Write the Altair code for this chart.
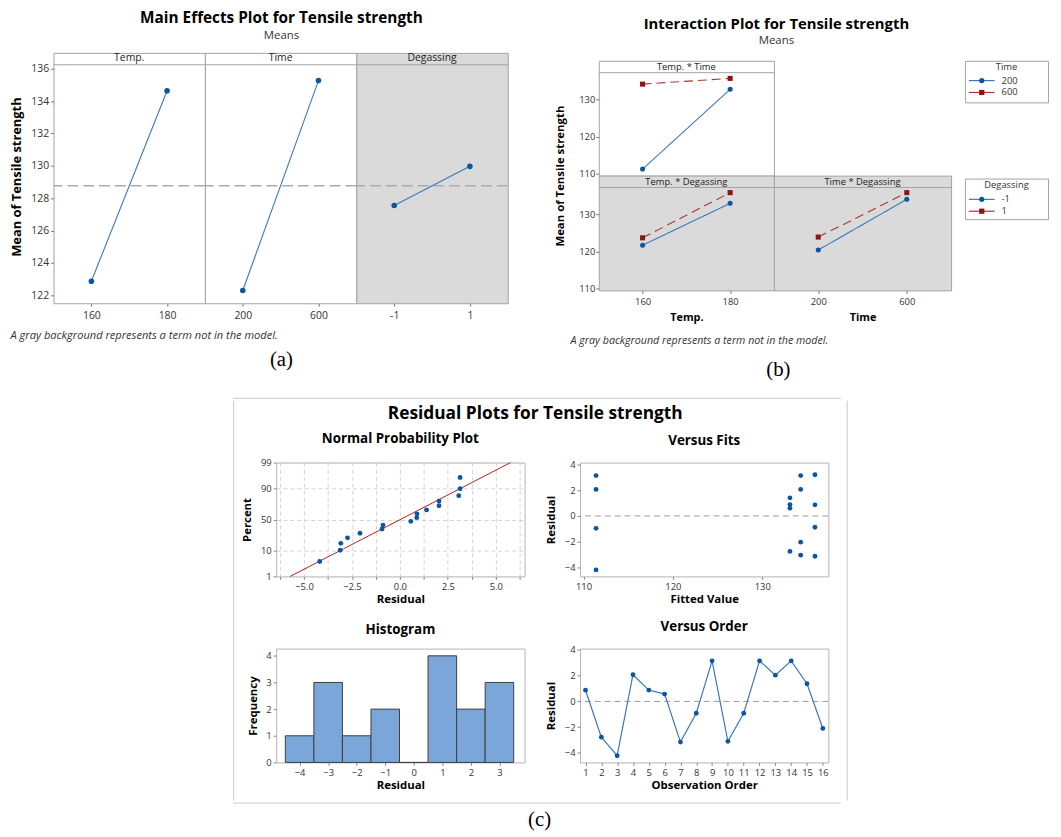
import altair as alt
import pandas as pd
from statistics import NormalDist

FONT = "Open Sans"
SERIF = "Liberation Serif"
BLUE = "#0b55a3"
BLUE_LINE = "#3a77bf"
RED = "#8c1414"
RED_LINE = "#ad3434"
PANEL_GRAY = "#dadada"
BORDER = "#a3a3a3"
FRAME = "#c9c9c9"
TXT = "#333333"

# ---------------- (a) main effects ----------------
me_temp_levels = ["160", "180"]
me_temp_means = [122.87, 134.64]
me_time_levels = ["200", "600"]
me_time_means = [122.30, 135.27]
me_degas_levels = ["-1", "1"]
me_degas_means = [127.55, 129.97]
me_grand_mean = [128.77]
me_y_ticks = [122, 124, 126, 128, 130, 132, 134, 136]

# ---------------- (b) interaction ----------------
ia_temp_levels = ["160", "180"]
ia_time_levels = ["200", "600"]
ia_degas_levels = ["-1", "1"]
ia_tt_time200 = [111.25, 132.8]
ia_tt_time600 = [134.2, 135.75]
ia_td_deg_m1 = [121.7, 133.0]
ia_td_deg_p1 = [123.7, 135.9]
ia_md_deg_m1 = [120.4, 134.1]
ia_md_deg_p1 = [123.9, 135.9]
ia_y_ticks = [110, 120, 130]

# ---------------- (c) residual plots ----------------
npp_resid = [-4.18, -3.11, -3.08, -2.73, -2.08, -0.93, -0.88, 0.57,
             0.88, 0.89, 1.39, 2.04, 2.04, 3.07, 3.14, 3.14]
npp_pct = [4.3, 10.4, 16.5, 22.6, 28.7, 34.8, 40.9, 47.0,
           53.0, 59.1, 65.2, 71.3, 77.4, 83.5, 89.6, 95.7]
npp_fit_resid = [-5.72, 5.77]
npp_fit_pct = [1, 99]
npp_x_grid = [-6.25, -5.0, -3.75, -2.5, -1.25, 0.0, 1.25, 2.5, 3.75, 5.0, 6.25]
npp_y_ticks = [1, 10, 50, 90, 99]

vf_fit = [111.4, 111.4, 111.4, 111.4, 133.1, 133.1, 133.1, 133.1,
          134.3, 134.3, 134.3, 134.3, 135.9, 135.9, 135.9, 135.9]
vf_resid = [3.12, 2.05, -0.96, -4.18, 1.40, 0.88, 0.60, -2.75,
            3.12, 2.05, -2.03, -3.04, 3.19, 0.86, -0.88, -3.12]
vf_x_ticks = [110, 120, 130]
resid_ticks = [-4, -2, 0, 2, 4]

hist_centers = [-4, -3, -2, -1, 0, 1, 2, 3]
hist_counts = [1, 3, 1, 2, 0, 4, 2, 3]
hist_bin_width = 1.0
hist_y_ticks = [0, 1, 2, 3, 4]

vo_order = [1, 2, 3, 4, 5, 6, 7, 8, 9, 10, 11, 12, 13, 14, 15, 16]
vo_resid = [0.87, -2.78, -4.22, 2.07, 0.88, 0.57, -3.16, -0.92,
            3.15, -3.10, -0.92, 3.15, 2.04, 3.15, 1.37, -2.10]


def blank(w, h, fill=None):
    vb = (alt.ViewBackground(stroke="transparent", fill=fill) if fill
          else alt.ViewBackground(stroke="transparent"))
    return (alt.Chart(pd.DataFrame({"v": [0]}))
            .mark_point(opacity=0, size=1)
            .encode(x=alt.value(0), y=alt.value(0))
            .properties(width=w, height=h, view=vb))


def header(text, size):
    return alt.TitleParams(text=text, frame="group", anchor="middle", offset=-11,
                           font=FONT, fontSize=size, fontWeight="normal", color="#222222")


# ================= (a) =================
ME_W, ME_H, ME_HDR = 153, 253, 12
me_ysc = alt.Scale(domain=[121.51, 136.98], nice=False, zero=False)


def me_panel(name, levels, means, gray, first):
    df = pd.DataFrame({"level": levels, "mean": means})
    xsc = alt.Scale(type="point", domain=levels, padding=0.5)
    xax = alt.Axis(title=None, labelAngle=0, labelFont=FONT, labelFontSize=10.5,
                   labelColor=TXT, tickSize=3, tickColor="#777777", domain=False,
                   labelPadding=4)
    if first:
        yax = alt.Axis(values=me_y_ticks, title="Mean of Tensile strength",
                       titleFont=FONT, titleFontSize=13, titleFontWeight="bold",
                       titleColor="black", titleX=-37, titleY=125, titleBaseline="middle",
                       labelFont=FONT, labelFontSize=10.5, labelColor=TXT,
                       tickSize=3, tickColor="#777777", domain=False, grid=False,
                       labelPadding=2)
    else:
        yax = None
    x = alt.X("level:N", scale=xsc, axis=xax)
    y = alt.Y("mean:Q", scale=me_ysc, axis=yax)
    mean_rule = (alt.Chart(pd.DataFrame({"mean": me_grand_mean}))
                 .mark_rule(color="#ababab", strokeDash=[11, 5], strokeWidth=1.3)
                 .encode(y=y))
    line = alt.Chart(df).mark_line(color=BLUE_LINE, strokeWidth=1.1).encode(x=x, y=y)
    pts = (alt.Chart(df).mark_point(filled=True, shape="circle", size=32, opacity=1, color=BLUE)
           .encode(x=x, y=y))
    hdr = (alt.Chart(pd.DataFrame({"v": [0]})).mark_rule(color=BORDER, strokeWidth=1)
           .encode(x=alt.value(0), x2=alt.value(ME_W), y=alt.value(ME_HDR)))
    return alt.layer(mean_rule, line, pts, hdr).properties(
        width=ME_W, height=ME_H, title=header(name, 10.5),
        view=alt.ViewBackground(fill=PANEL_GRAY if gray else "white", stroke=BORDER, strokeWidth=1))


A_grid = alt.hconcat(
    me_panel("Temp.", me_temp_levels, me_temp_means, False, True),
    me_panel("Time", me_time_levels, me_time_means, False, False),
    me_panel("Degassing", me_degas_levels, me_degas_means, True, False),
    spacing=0, bounds="flush",
).properties(title=alt.TitleParams(
    text="Main Effects Plot for Tensile strength", subtitle="Means", anchor="middle",
    dx=22, offset=11, font=FONT, fontSize=15.5, fontWeight="bold", color="black",
    subtitleFont=FONT, subtitleFontSize=11.5, subtitleColor=TXT, subtitlePadding=4))

A_foot = alt.vconcat(A_grid).properties(title=alt.TitleParams(
    text="A gray background represents a term not in the model.", orient="bottom",
    anchor="start", offset=9, font=FONT, fontSize=11.2, fontStyle="italic",
    fontWeight="normal", color=TXT))

A_full = alt.vconcat(A_foot).properties(title=alt.TitleParams(
    text="(a)", orient="bottom", anchor="middle", offset=8, dx=22, font=SERIF,
    fontSize=21, fontWeight="normal", color="black"))

# ================= (b) =================
IA_WL, IA_WR, IA_H, IA_HDR = 177, 179, 116, 12
ia_ysc = alt.Scale(domain=[109.5, 140.5], nice=False, zero=False)


def ia_panel(name, xlevels, series, W, show_y, ytitle, xtitle):
    xsc = alt.Scale(type="point", domain=xlevels, padding=0.5)
    if xtitle:
        xax = alt.Axis(title=xtitle, labelAngle=0, labelFont=FONT, labelFontSize=9.5,
                       labelColor=TXT, tickSize=3, tickColor="#777777", domain=False,
                       labelPadding=3, titleFont=FONT, titleFontSize=11,
                       titleFontWeight="bold", titleColor="black", titlePadding=6)
    else:
        xax = None
    if show_y:
        kw = dict(values=ia_y_ticks, labelFont=FONT, labelFontSize=9.5, labelColor=TXT,
                  tickSize=3, tickColor="#777777", domain=False, grid=False, labelPadding=1)
        if ytitle:
            yax = alt.Axis(title=ytitle, titleFont=FONT, titleFontSize=11.5,
                           titleFontWeight="bold", titleColor="black", titleX=-39,
                           titleY=IA_H, titleBaseline="middle", **kw)
        else:
            yax = alt.Axis(title=None, **kw)
    else:
        yax = None
    x = alt.X("level:N", scale=xsc, axis=xax)
    y = alt.Y("mean:Q", scale=ia_ysc, axis=yax)
    layers = []
    for vals, lcol, pcol, dash, shp in series:
        d = pd.DataFrame({"level": xlevels, "mean": vals})
        layers.append(alt.Chart(d).mark_line(color=lcol, strokeWidth=1.1, strokeDash=dash)
                      .encode(x=x, y=y))
        layers.append(alt.Chart(d).mark_point(filled=True, shape=shp, size=26, opacity=1,
                                              color=pcol).encode(x=x, y=y))
    layers.append(alt.Chart(pd.DataFrame({"v": [0]})).mark_rule(color=BORDER, strokeWidth=1)
                  .encode(x=alt.value(0), x2=alt.value(W), y=alt.value(IA_HDR)))
    gray = name != "Temp. * Time"
    return alt.layer(*layers).properties(
        width=W, height=IA_H, title=header(name, 9.5),
        view=alt.ViewBackground(fill=PANEL_GRAY if gray else "white", stroke=BORDER, strokeWidth=1))


S_BLUE = (BLUE_LINE, BLUE, [1, 0], "circle")
S_RED = (RED_LINE, RED, [9, 5], "square")

TL = ia_panel("Temp. * Time", ia_temp_levels,
              [(ia_tt_time200,) + S_BLUE, (ia_tt_time600,) + S_RED],
              IA_WL, True, "Mean of Tensile strength", None)
BL = ia_panel("Temp. * Degassing", ia_temp_levels,
              [(ia_td_deg_m1,) + S_BLUE, (ia_td_deg_p1,) + S_RED],
              IA_WL, True, None, "Temp.")
BR = ia_panel("Time * Degassing", ia_time_levels,
              [(ia_md_deg_m1,) + S_BLUE, (ia_md_deg_p1,) + S_RED],
              IA_WR, False, None, "Time")

B_grid = alt.concat(TL, blank(IA_WR, IA_H), BL, BR, columns=2, spacing=0, bounds="flush")


def legend_box(title, levels, h, y0):
    ysc = alt.Scale(type="point", domain=levels, range=[y0, y0 + 12], padding=0)
    y = alt.Y("level:N", scale=ysc, axis=None)
    layers = []
    for lev, (lcol, pcol, dash, shp) in zip(levels, [S_BLUE, S_RED]):
        d = pd.DataFrame({"level": [lev]})
        layers.append(alt.Chart(d).mark_rule(color=lcol, strokeWidth=1.2)
                      .encode(x=alt.value(4), x2=alt.value(30), y=y))
        layers.append(alt.Chart(d).mark_point(filled=True, shape=shp, size=28, opacity=1, color=pcol)
                      .encode(x=alt.value(17), y=y))
        layers.append(alt.Chart(d).mark_text(align="left", baseline="middle", font=FONT,
                                             fontSize=9.5, color=TXT)
                      .encode(x=alt.value(37), y=y, text="level:N"))
    return alt.layer(*layers).properties(
        width=84, height=h, view=alt.ViewBackground(fill="white", stroke=BORDER),
        title=alt.TitleParams(text=title, frame="group", anchor="middle", offset=-11,
                              font=FONT, fontSize=9.5, fontWeight="normal", color=TXT))


legends_col = alt.vconcat(legend_box("Time", ia_time_levels, 42, 20),
                          legend_box("Degassing", ia_degas_levels, 41, 21), spacing=75)

B_body = alt.hconcat(B_grid, legends_col, spacing=12).properties(title=alt.TitleParams(
    text="Interaction Plot for Tensile strength", subtitle="Means", anchor="middle",
    dx=-25, offset=13, font=FONT, fontSize=15, fontWeight="bold", color="black",
    subtitleFont=FONT, subtitleFontSize=11.5, subtitleColor=TXT, subtitlePadding=4))

B_foot = alt.vconcat(B_body).properties(title=alt.TitleParams(
    text="A gray background represents a term not in the model.", orient="bottom",
    anchor="start", offset=12, dx=17, font=FONT, fontSize=10.8, fontStyle="italic",
    fontWeight="normal", color=TXT))

B_full = alt.vconcat(B_foot).properties(title=alt.TitleParams(
    text="(b)", orient="bottom", anchor="middle", offset=14, dx=-23, font=SERIF,
    fontSize=21, fontWeight="normal", color="black"))

# ================= (c) =================
C_W, C_H = 251, 115
nd = NormalDist()


def c_xaxis(title, values, labelExpr=None, grid=False):
    kw = dict(values=values, title=title, labelAngle=0, labelFont=FONT, labelFontSize=9.5,
              labelColor=TXT, tickSize=3, tickColor="#888888", domain=False, labelPadding=2,
              titleFont=FONT, titleFontSize=11.5, titleFontWeight="bold", titleColor="black",
              titlePadding=3, grid=grid)
    if labelExpr:
        kw["labelExpr"] = labelExpr
    if grid:
        kw.update(gridDash=[4, 3], gridColor="#d2d2d2")
    return alt.Axis(**kw)


def c_yaxis(title, values, tx, labelExpr=None, grid=False):
    kw = dict(values=values, title=title, labelFont=FONT, labelFontSize=9.5, labelColor=TXT,
              tickSize=3, tickColor="#888888", domain=False, labelPadding=2,
              titleFont=FONT, titleFontSize=11.5, titleFontWeight="bold", titleColor="black",
              titleX=tx, titleY=C_H / 2, titleBaseline="middle", grid=grid)
    if labelExpr:
        kw["labelExpr"] = labelExpr
    if grid:
        kw.update(gridDash=[4, 3], gridColor="#d2d2d2")
    return alt.Axis(**kw)


def c_title(t):
    return alt.TitleParams(text=t, frame="group", anchor="middle", offset=12, font=FONT,
                           fontSize=13.5, fontWeight="bold", color="black")


C_VIEW = alt.ViewBackground(fill="white", stroke="#b4b4b4", strokeWidth=1)

# Normal probability plot
npp_x = alt.X("resid:Q", scale=alt.Scale(domain=[-6.45, 6.5], nice=False, zero=False),
              axis=c_xaxis("Residual", npp_x_grid,
                           "abs(datum.value % 2.5) < 0.01 ? format(datum.value, '.1f') : ''",
                           grid=True))
npp_y = alt.Y("z:Q", scale=alt.Scale(domain=[nd.inv_cdf(0.01), nd.inv_cdf(0.99)], nice=False, zero=False),
              axis=c_yaxis("Percent", [nd.inv_cdf(p / 100) for p in npp_y_ticks], -29,
                           "format(cumulativeNormal(datum.value) * 100, '.0f')", grid=True))
npp_fit = (alt.Chart(pd.DataFrame({"resid": npp_fit_resid, "pct": npp_fit_pct}))
           .transform_calculate(z="quantileNormal(datum.pct / 100)")
           .mark_line(color="#b32020", strokeWidth=1).encode(x=npp_x, y=npp_y))
npp_pts = (alt.Chart(pd.DataFrame({"resid": npp_resid, "pct": npp_pct}))
           .transform_calculate(z="quantileNormal(datum.pct / 100)")
           .mark_point(filled=True, size=24, opacity=1, color=BLUE).encode(x=npp_x, y=npp_y))
NPP = alt.layer(npp_fit, npp_pts).properties(width=C_W, height=C_H, view=C_VIEW,
                                             title=c_title("Normal Probability Plot"))

# Versus fits
vf_x = alt.X("fit:Q", scale=alt.Scale(domain=[109.6, 137.4], nice=False, zero=False),
             axis=c_xaxis("Fitted Value", vf_x_ticks))
vf_y = alt.Y("resid:Q", scale=alt.Scale(domain=[-4.68, 4.13], nice=False, zero=False),
             axis=c_yaxis("Residual", resid_ticks, -29))
vf_zero = (alt.Chart(pd.DataFrame({"resid": [0]}))
           .mark_rule(color="#9a9a9a", strokeDash=[6, 4], strokeWidth=1).encode(y=vf_y))
vf_pts = (alt.Chart(pd.DataFrame({"fit": vf_fit, "resid": vf_resid}))
          .mark_point(filled=True, size=24, opacity=1, color=BLUE).encode(x=vf_x, y=vf_y))
VF = alt.layer(vf_zero, vf_pts).properties(width=C_W, height=C_H, view=C_VIEW,
                                           title=c_title("Versus Fits"))

# Histogram
h_x = alt.X("lo:Q", scale=alt.Scale(domain=[-4.82, 3.88], nice=False, zero=False),
            axis=c_xaxis("Residual", hist_centers))
h_y = alt.Y("count:Q", scale=alt.Scale(domain=[0, 4.27], nice=False),
            axis=c_yaxis("Frequency", hist_y_ticks, -23))
HIST = (alt.Chart(pd.DataFrame({"center": hist_centers, "count": hist_counts}))
        .transform_calculate(lo=f"datum.center - {hist_bin_width / 2}",
                             hi=f"datum.center + {hist_bin_width / 2}")
        .mark_rect(fill="#7ba6d9", stroke="#3e3e3e", strokeWidth=1, opacity=1)
        .encode(x=h_x, x2="hi:Q", y=h_y, y2=alt.datum(0))
        .properties(width=C_W, height=C_H, view=C_VIEW, title=c_title("Histogram")))

# Versus order
vo_x = alt.X("order:Q", scale=alt.Scale(domain=[0.65, 16.35], nice=False, zero=False),
             axis=c_xaxis("Observation Order", vo_order))
vo_y = alt.Y("resid:Q", scale=alt.Scale(domain=[-4.74, 4.1], nice=False, zero=False),
             axis=c_yaxis("Residual", resid_ticks, -29))
vo_df = pd.DataFrame({"order": vo_order, "resid": vo_resid})
vo_zero = (alt.Chart(pd.DataFrame({"resid": [0]}))
           .mark_rule(color="#9a9a9a", strokeDash=[6, 4], strokeWidth=1).encode(y=vo_y))
vo_line = alt.Chart(vo_df).mark_line(color=BLUE_LINE, strokeWidth=1.2).encode(x=vo_x, y=vo_y)
vo_pts = (alt.Chart(vo_df).mark_point(filled=True, size=24, opacity=1, color=BLUE)
          .encode(x=vo_x, y=vo_y))
VO = alt.layer(vo_zero, vo_line, vo_pts).properties(width=C_W, height=C_H, view=C_VIEW,
                                                    title=c_title("Versus Order"))

C_grid = alt.concat(NPP, VF, HIST, VO, columns=2, spacing={"row": 73, "column": 56},
                    bounds="flush").properties(title=alt.TitleParams(
                        text="Residual Plots for Tensile strength", anchor="middle", offset=10,
                        font=FONT, fontSize=17.5, fontWeight="bold", color="black"))

C_col = alt.vconcat(blank(1, 3), C_grid, spacing=0)
C_mid = alt.hconcat(blank(1, 404, FRAME), blank(4, 1), C_col, blank(14, 1),
                    blank(1, 404, FRAME), spacing=0)
C_frame = alt.vconcat(blank(614, 1, FRAME), C_mid, blank(614, 1, FRAME), spacing=0)
C_full = alt.vconcat(C_frame).properties(title=alt.TitleParams(
    text="(c)", orient="bottom", anchor="middle", offset=6, font=SERIF, fontSize=21,
    fontWeight="normal", color="black"))

A_col = alt.vconcat(blank(1, 1), A_full, spacing=0)
B_col = alt.vconcat(blank(1, 7), B_full, spacing=0)
top_row = alt.hconcat(A_col, B_col, spacing=44)
bottom_row = alt.hconcat(blank(179, 1), C_full, spacing=0)

chart = (alt.vconcat(top_row, bottom_row, spacing=16)
         .properties(padding={"left": 2, "top": -5, "right": 4, "bottom": 2})
         .configure(font=FONT)
         .configure_view(stroke="transparent"))

chart.save("out.html", embed_options={"renderer": "svg", "actions": False})
